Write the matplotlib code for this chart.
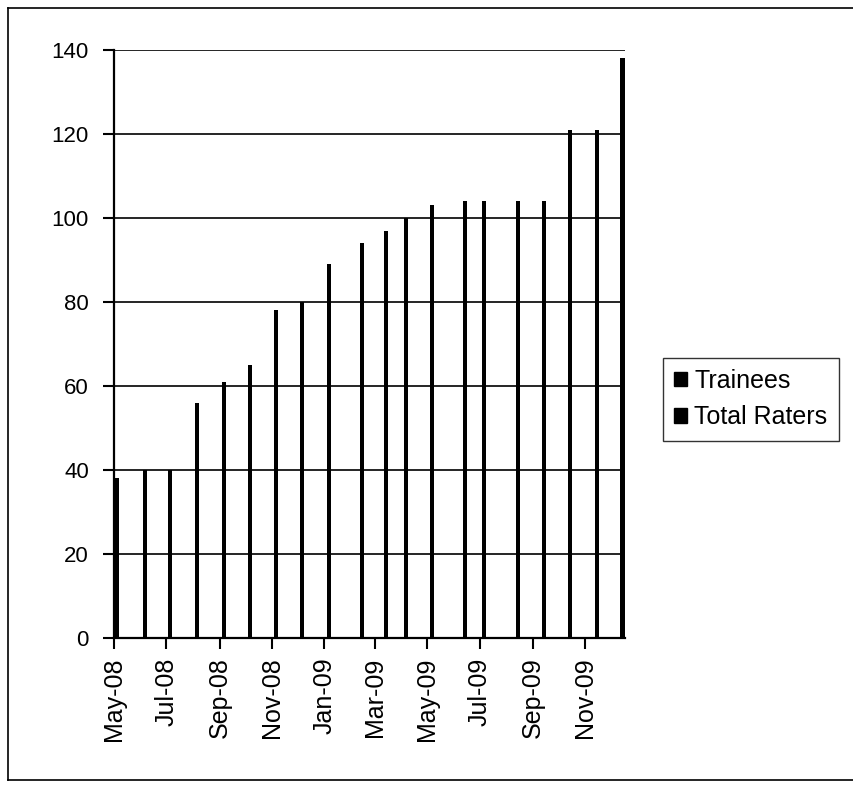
'''Total raters per month, May-08 to Dec-09'''

from datetime import datetime
import matplotlib
matplotlib.use('Agg')
import matplotlib.pyplot as plt
import matplotlib.dates as mdates
from matplotlib.patches import Patch
from matplotlib.lines import Line2D

plt.rcParams['font.family'] = ['Liberation Sans', 'DejaVu Sans']

# one reading per month, dates
rating_dates = ['2008-05-04', '2008-06-06', '2008-07-05', '2008-08-06', '2008-09-06',
                '2008-10-06', '2008-11-06', '2008-12-06', '2009-01-06', '2009-02-14',
                '2009-03-14', '2009-04-06', '2009-05-06', '2009-06-14', '2009-07-06',
                '2009-08-14', '2009-09-14', '2009-10-14', '2009-11-14', '2009-12-14']
total_raters = [38, 40, 40, 56, 61, 65, 78, 80, 89, 94,
                97, 100, 103, 104, 104, 104, 104, 121, 121, 138]
series_names = ['Trainees', 'Total Raters']
y_ticks = [0, 20, 40, 60, 80, 100, 120, 140]


def main():
    dates = [datetime.strptime(d, '%Y-%m-%d') for d in rating_dates]

    fig = plt.figure(figsize=(8.54, 7.88), dpi=100)
    ax = fig.add_axes([114 / 854, 1 - 638 / 788, 511 / 854, 588 / 788])

    ax.bar(dates, total_raters, width=5.0, color='black', zorder=3)

    ax.set_xlim(datetime(2008, 5, 1), datetime(2009, 12, 17))
    ax.set_ylim(0, 140)
    ax.set_yticks(y_ticks)
    ax.yaxis.grid(True, color='black', linewidth=1.2)
    ax.set_axisbelow(True)

    ax.xaxis.set_major_locator(mdates.MonthLocator(bymonth=[1, 3, 5, 7, 9, 11]))
    ax.xaxis.set_major_formatter(mdates.DateFormatter('%b-%y'))
    for label in ax.get_xticklabels():
        label.set_rotation(90)

    ax.tick_params(axis='both', direction='out', length=8, width=1.5, colors='black')
    ax.tick_params(axis='y', labelsize=16, pad=10)
    ax.tick_params(axis='x', labelsize=18, pad=6)

    for side in ['top', 'right']:
        ax.spines[side].set_visible(False)
    for side in ['left', 'bottom']:
        ax.spines[side].set_linewidth(1.6)
        ax.spines[side].set_color('black')

    handles = [Patch(facecolor='black', edgecolor='black', label=n) for n in series_names]
    leg = fig.legend(handles=handles, loc='center left',
                     bbox_to_anchor=(663 / 854, 1 - 399 / 788),
                     fontsize=18, frameon=True, fancybox=False,
                     handlelength=0.5, handleheight=0.5, handletextpad=0.3,
                     labelspacing=0.5, borderpad=0.45, borderaxespad=0)
    leg.get_frame().set_edgecolor('black')
    leg.get_frame().set_linewidth(1.0)

    # chart area border
    fig.add_artist(Line2D([8 / 854, 8 / 854], [1 - 8 / 788, 1 - 780 / 788],
                          transform=fig.transFigure, color='black', linewidth=1.2))
    fig.add_artist(Line2D([8 / 854, 1.0], [1 - 8 / 788, 1 - 8 / 788],
                          transform=fig.transFigure, color='black', linewidth=1.2))
    fig.add_artist(Line2D([8 / 854, 1.0], [1 - 780 / 788, 1 - 780 / 788],
                          transform=fig.transFigure, color='black', linewidth=1.2))

    fig.savefig('out.png', dpi=100)


if __name__ == '__main__':
    main()
